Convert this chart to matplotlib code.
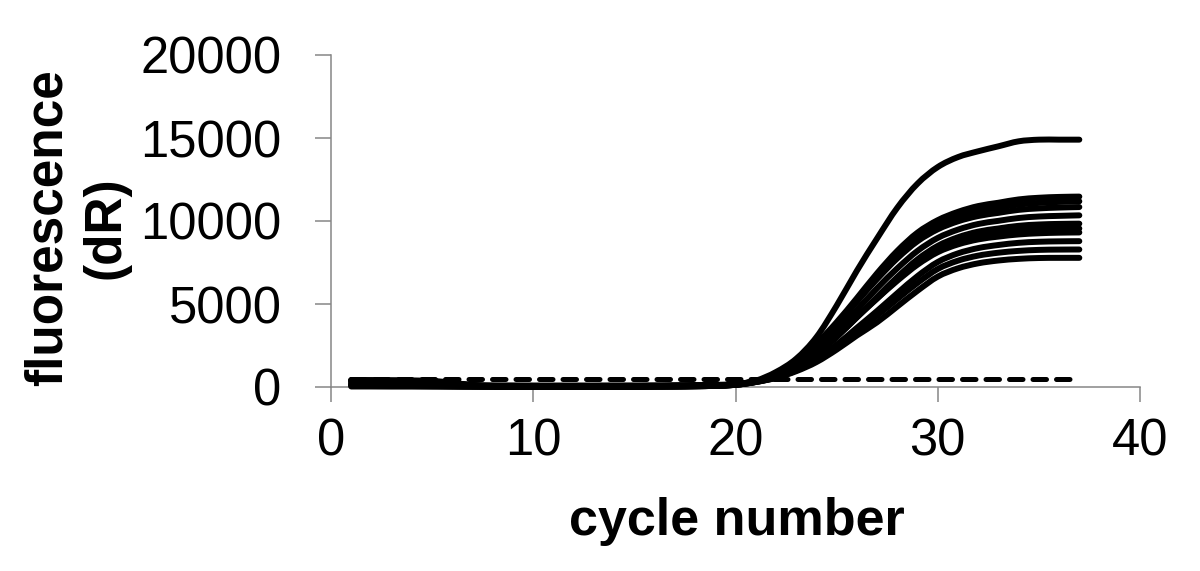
import matplotlib
matplotlib.use("Agg")
import matplotlib.pyplot as plt
from matplotlib.path import Path
from matplotlib.patches import PathPatch

plt.rcParams['font.family'] = ['Liberation Sans', 'DejaVu Sans']

# ---- data ----
cycles = list(range(1, 38))

curve_top = [380, 370, 350, 320, 270, 170, 90, 60, 50, 45, 45, 45, 50, 50, 55, 60, 70, 90, 120,
             170, 380, 900, 1700, 3000, 4900, 7000, 8950, 10800, 12250, 13250, 13850, 14200,
             14500, 14800, 14900, 14900, 14900]

bundle = [
    [420, 410, 400, 390, 360, 260, 110, 60, 50, 45, 45, 45, 50, 55, 60, 65, 75, 90, 115,
     160, 350, 750, 1450, 2600, 3900, 5350, 6850, 8200, 9300, 10050, 10550, 10900,
     11100, 11300, 11400, 11450, 11470],
    [300, 290, 280, 260, 220, 150, 80, 60, 50, 50, 50, 50, 55, 60, 60, 65, 75, 90, 110,
     155, 345, 740, 1420, 2500, 3760, 5160, 6600, 7930, 9010, 9760, 10260, 10600,
     10800, 10990, 11090, 11150, 11185],
    [150, 140, 130, 115, 100, 80, 60, 50, 45, 40, 40, 40, 45, 45, 50, 55, 65, 80, 105,
     150, 360, 760, 1450, 2550, 3800, 5150, 6500, 7750, 8780, 9500, 9980, 10300,
     10490, 10670, 10760, 10810, 10840],
    [390, 380, 370, 360, 330, 230, 120, 100, 95, 90, 90, 90, 90, 95, 95, 100, 105, 115, 130,
     165, 335, 700, 1300, 2280, 3400, 4650, 5950, 7150, 8200, 8980, 9480, 9820,
     10010, 10180, 10270, 10310, 10340],
    [100, 95, 90, 80, 65, 45, 30, 20, 15, 15, 15, 15, 15, 20, 20, 25, 30, 45, 70,
     130, 310, 600, 1120, 1950, 3000, 4200, 5420, 6620, 7690, 8500, 9020, 9360,
     9550, 9710, 9790, 9825, 9840],
    [410, 400, 390, 375, 340, 240, 100, 60, 45, 40, 40, 40, 40, 45, 45, 50, 60, 75, 100,
     150, 325, 650, 1190, 2030, 3050, 4190, 5330, 6470, 7490, 8280, 8780, 9100,
     9285, 9430, 9500, 9535, 9550],
    [260, 250, 240, 220, 190, 130, 70, 45, 35, 30, 30, 30, 30, 30, 35, 40, 50, 65, 95,
     155, 345, 700, 1300, 2150, 3150, 4250, 5330, 6400, 7370, 8120, 8590, 8890,
     9060, 9190, 9260, 9295, 9310],
    [30, 30, 25, 25, 20, 20, 15, 15, 10, 10, 10, 10, 15, 15, 20, 25, 30, 45, 70,
     130, 300, 560, 1000, 1680, 2550, 3560, 4580, 5650, 6680, 7530, 8050, 8370,
     8555, 8685, 8750, 8775, 8785],
    [180, 170, 160, 145, 120, 85, 50, 30, 20, 15, 15, 15, 15, 20, 20, 25, 35, 50, 75,
     135, 305, 580, 1020, 1650, 2470, 3400, 4300, 5300, 6270, 7110, 7610, 7915,
     8090, 8200, 8260, 8278, 8283],
    [80, 75, 70, 60, 50, 35, 25, 20, 15, 15, 15, 15, 15, 20, 20, 25, 30, 45, 70,
     130, 300, 550, 950, 1500, 2250, 3100, 3900, 4850, 5800, 6650, 7150, 7450,
     7620, 7720, 7770, 7780, 7780],
]

threshold = 500

x_ticks = [0, 10, 20, 30, 40]
y_ticks = [0, 5000, 10000, 15000, 20000]


def smooth_path(xs, ys):
    """Excel-style smoothed line: cubic Bezier through every data point."""
    n = len(xs)
    pts = list(zip(xs, ys))
    verts = [pts[0]]
    codes = [Path.MOVETO]
    for i in range(n - 1):
        p0 = pts[i - 1] if i > 0 else pts[i]
        p1 = pts[i]
        p2 = pts[i + 1]
        p3 = pts[i + 2] if i + 2 < n else pts[i + 1]
        c1 = (p1[0] + (p2[0] - p0[0]) / 6, p1[1] + (p2[1] - p0[1]) / 6)
        c2 = (p2[0] - (p3[0] - p1[0]) / 6, p2[1] - (p3[1] - p1[1]) / 6)
        verts += [c1, c2, p2]
        codes += [Path.CURVE4] * 3
    return Path(verts, codes)


# ---- figure ----
fig = plt.figure(figsize=(12, 5.71), dpi=100)
ax = fig.add_axes([331 / 1200, 1 - 387 / 571, (1140 - 331) / 1200, (387 - 55) / 571])

lw = 4.3

ax.plot(cycles, [threshold] * len(cycles), color='black', lw=3.6,
        dashes=(2.7, 2.0), dash_capstyle='round', zorder=3, clip_on=False)

for vals in bundle + [curve_top]:
    patch = PathPatch(smooth_path(cycles, vals), fill=False, edgecolor='black', lw=lw,
                      capstyle='round', joinstyle='round', zorder=4, clip_on=False)
    ax.add_patch(patch)

ax.set_xlim(0, 40)
ax.set_ylim(0, 20000)
ax.set_xticks(x_ticks)
ax.set_yticks(y_ticks)

for s in ['top', 'right']:
    ax.spines[s].set_visible(False)
for s in ['left', 'bottom']:
    ax.spines[s].set_color('#868686')
    ax.spines[s].set_linewidth(1.1)

ax.tick_params(axis='x', direction='out', length=11, width=1.1, color='#868686',
               labelsize=36.5, pad=11, labelcolor='black')
ax.tick_params(axis='y', direction='out', length=11.5, width=1.1, color='#868686',
               labelsize=36.5, pad=24, labelcolor='black')

fig.text(77 / 1200, 1 - 228 / 571, 'fluorescence\n(dR)', rotation=90, ha='center',
         va='center', fontsize=37, fontweight='bold', linespacing=1.25,
         multialignment='center')
fig.text(737 / 1200, 1 - 521 / 571, 'cycle number', ha='center', va='center',
         fontsize=37.5, fontweight='bold')

fig.savefig('out.png', dpi=100)
